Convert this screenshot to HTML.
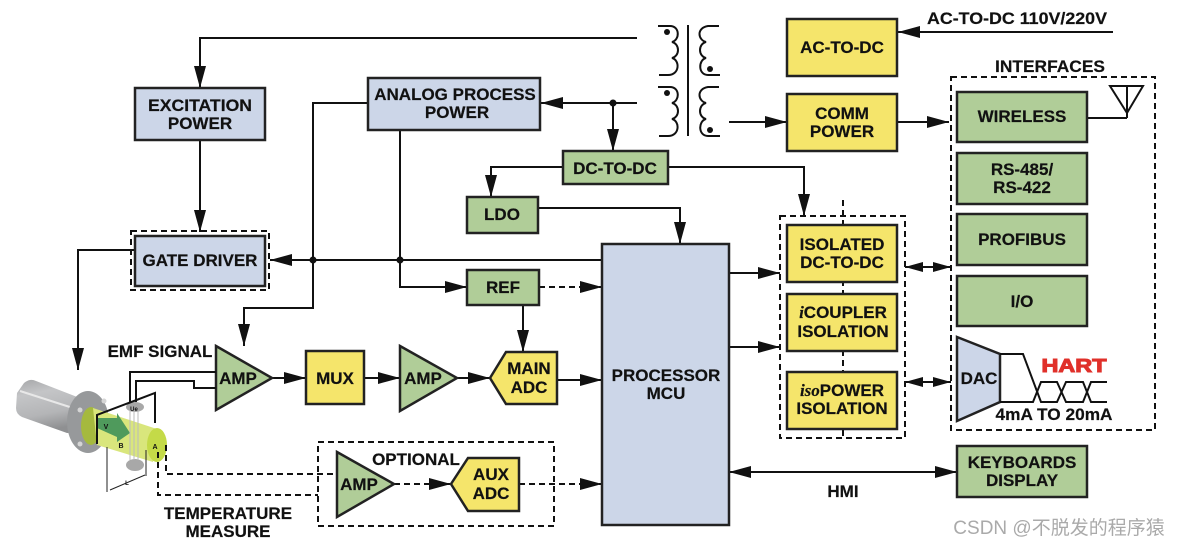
<!DOCTYPE html>
<html><head><meta charset="utf-8"><style>
html,body{margin:0;padding:0;background:#fff;width:1179px;height:545px;overflow:hidden}
svg{display:block}
text{font-family:"Liberation Sans",sans-serif;font-weight:bold;font-size:17px;fill:#111;text-anchor:middle;stroke:#111;stroke-width:.2}
.b{fill:#ccd6e8;stroke:#222;stroke-width:2.5}
.g{fill:#b0cd98;stroke:#222;stroke-width:2.5}
.y{fill:#f5e56b;stroke:#222;stroke-width:2.5}
.l{fill:none;stroke:#111;stroke-width:2}
.d{fill:none;stroke:#111;stroke-width:2;stroke-dasharray:6 4}
.i{font-family:"Liberation Serif",serif;font-style:italic}
</style></head><body>
<svg width="1179" height="545" viewBox="0 0 1179 545" xmlns="http://www.w3.org/2000/svg">
<defs>
<marker id="a" markerUnits="userSpaceOnUse" markerWidth="22" markerHeight="14" refX="22" refY="7" orient="auto-start-reverse"><path d="M0 1 L22 7 L0 13 Z" fill="#111"/></marker>
<marker id="s" markerUnits="userSpaceOnUse" markerWidth="18" markerHeight="12" refX="18" refY="6" orient="auto-start-reverse"><path d="M0 1 L18 6 L0 11 Z" fill="#111"/></marker>
<linearGradient id="p" x1="0" y1="0" x2="0.25" y2="1"><stop offset="0" stop-color="#a6a7a9"/><stop offset=".3" stop-color="#c4c5c7"/><stop offset=".7" stop-color="#b4b5b7"/><stop offset="1" stop-color="#8f9092"/></linearGradient>
</defs>

<!-- connectors -->
<path class="l" d="M637 38H200V88" marker-end="url(#a)"/>
<path class="l" d="M637 103H541" marker-end="url(#a)"/>
<path class="l" d="M613 103V151" marker-end="url(#a)"/>
<circle cx="613" cy="103" r="3.5" fill="#111"/>
<path class="l" d="M200 140V232" marker-end="url(#a)"/>
<path class="l" d="M368 103H313V308H244V346" marker-end="url(#a)"/>
<path class="l" d="M400 130V287H467" marker-end="url(#a)"/>
<path class="l" d="M602 260H270" marker-end="url(#a)"/>
<circle cx="313" cy="260" r="3.5" fill="#111"/>
<circle cx="400" cy="260" r="3.5" fill="#111"/>
<path class="l" d="M135 250H78V370" marker-end="url(#a)"/>
<path class="l" d="M563 167H491V197" marker-end="url(#a)"/>
<path class="l" d="M668 167H804V216" marker-end="url(#a)"/>
<path class="l" d="M538 208H680V244" marker-end="url(#a)"/>
<path class="d" d="M539 287H602" marker-end="url(#a)"/>
<path class="l" d="M523 305V352" marker-end="url(#a)"/>
<path class="l" d="M729 273H780" marker-end="url(#a)"/>
<path class="l" d="M729 347H780" marker-end="url(#a)"/>
<path class="l" d="M729 122H787" marker-end="url(#a)"/>
<path class="l" d="M897 122H949" marker-end="url(#a)"/>
<path class="l" d="M1087 118H1127"/>
<path class="l" d="M1110 86H1143L1127 113ZM1127 86V118"/>
<path class="l" d="M1113 32H898" marker-end="url(#a)"/>
<path class="l" d="M905 267H951" marker-start="url(#s)" marker-end="url(#s)"/>
<path class="l" d="M905 382H951" marker-start="url(#s)" marker-end="url(#s)"/>
<path class="l" d="M729 472H957" marker-start="url(#a)" marker-end="url(#a)"/>
<path class="l" d="M272 378H306" marker-end="url(#a)"/>
<path class="l" d="M364 378H400" marker-end="url(#a)"/>
<path class="l" d="M457 378H490" marker-end="url(#a)"/>
<path class="l" d="M557 380H602" marker-end="url(#a)"/>
<path class="d" d="M394 484H451" marker-end="url(#a)"/>
<path class="d" d="M519 484H602" marker-end="url(#a)"/>
<path class="d" d="M843 200V438" stroke-dasharray="7 7"/>

<!-- transformer -->
<g fill="none" stroke="#111" stroke-width="2">
<path d="M688 25V136"/>
<path d="M658 26H670C680 26 680 40 672 42C680 44 680 56 672 58C680 60 680 75 668 75H659"/>
<path d="M719 26H708C696 28 698 40 706 42C698 44 698 56 706 58C698 60 698 75 708 75H720"/>
<path d="M658 87H670C680 87 680 101 672 103C680 105 680 117 672 119C680 121 680 136 668 136H659"/>
<path d="M719 87H708C696 89 698 101 706 103C698 105 698 117 706 119C698 121 698 136 708 136H720"/>
</g>
<circle cx="667" cy="32" r="3" fill="#111"/><circle cx="710" cy="69" r="3" fill="#111"/>
<circle cx="667" cy="93" r="3" fill="#111"/><circle cx="710" cy="130" r="3" fill="#111"/>

<!-- dashed groups -->
<rect x="131" y="231" width="138" height="59" class="d"/>
<rect x="780" y="216" width="125" height="222" class="d"/>
<rect x="951" y="77" width="204" height="353" class="d"/>
<rect x="318" y="442" width="236" height="84" class="d"/>

<!-- boxes -->
<rect class="b" x="135" y="88" width="130" height="52"/>
<rect class="b" x="368" y="78" width="172" height="52"/>
<rect class="b" x="135" y="236" width="130" height="50"/>
<rect class="b" x="602" y="244" width="127" height="281"/>
<path class="b" d="M957 337L1000 354V402L957 421Z"/>
<rect class="g" x="563" y="151" width="105" height="33"/>
<rect class="g" x="467" y="197" width="71" height="36"/>
<rect class="g" x="467" y="270" width="72" height="35"/>
<rect class="g" x="957" y="92" width="130" height="50"/>
<rect class="g" x="957" y="153" width="130" height="51"/>
<rect class="g" x="957" y="214" width="130" height="51"/>
<rect class="g" x="957" y="276" width="130" height="50"/>
<rect class="g" x="957" y="446" width="130" height="51"/>
<path class="g" d="M216 346L272 378L216 410Z"/>
<path class="g" d="M400 346L457 378L400 411Z"/>
<path class="g" d="M337 452L394 484L337 517Z"/>
<rect class="y" x="787" y="19" width="110" height="57"/>
<rect class="y" x="787" y="94" width="110" height="57"/>
<rect class="y" x="787" y="225" width="110" height="57"/>
<rect class="y" x="787" y="294" width="110" height="57"/>
<rect class="y" x="787" y="372" width="110" height="57"/>
<rect class="y" x="306" y="351" width="58" height="53"/>
<path class="y" d="M490 378L506 352H557V404H506Z"/>
<path class="y" d="M451 484L468 458H519V511H468Z"/>

<!-- HART waves -->
<path class="l" d="M1000 354H1023L1041 402H1057L1066 382H1083L1091 402H1107"/>
<path class="l" d="M1000 402H1033L1041 382H1057L1066 402H1083L1091 382H1107"/>

<!-- flow meter -->
<path d="M17 393L24 383Q30 378 36 381L85 400V432L67 433L22 417Q16 414 16 408Z" fill="url(#p)"/>
<path d="M20 391L76 409" stroke="#e8e8e8" stroke-width="2"/>
<ellipse cx="88" cy="422" rx="21" ry="31" fill="#97999b"/>
<circle cx="80" cy="410" r="2.5" fill="#d5d5d5"/><circle cx="104" cy="401" r="2.5" fill="#d5d5d5"/><circle cx="80" cy="444" r="2.5" fill="#d5d5d5"/>
<ellipse cx="91" cy="426" rx="10" ry="19" fill="#a5b93e"/>
<path d="M93 408L160 430L153 462L97 445Z" fill="#d9e67c"/>
<ellipse cx="157" cy="445" rx="10" ry="17" fill="#c4da48"/>
<path d="M97 418H117V413L130 433L117 442V437L97 428Z" fill="#4f9a5c"/>
<ellipse cx="135" cy="407" rx="9" ry="5" fill="#a8a8a8"/>
<ellipse cx="135" cy="465" rx="9" ry="6" fill="#a8a8a8"/>
<path d="M130 410V460M134 410V460M138 410V460" stroke="#bbb" stroke-width="1"/>
<path d="M97 444V415L155 393V423" fill="none" stroke="#111" stroke-width="2"/>
<path d="M107 447V492M146 450V476M110 490L145 475" stroke="#222" stroke-width="1" fill="none"/>
<path class="l" d="M216 372H130V402"/>
<path class="l" d="M216 388H194V381H136V402"/>
<path class="d" d="M166 445V474H337"/>
<path class="d" d="M158 452V495H318"/>
<text x="106" y="429" style="font-size:7px;stroke:none">V</text><text x="121" y="448" style="font-size:7px;stroke:none">B</text><text x="155" y="449" style="font-size:7px;stroke:none">A</text><text x="134" y="411" style="font-size:6px;stroke:none">Ue</text><text x="127" y="485" style="font-size:6px;stroke:none">L</text>

<!-- labels -->
<text x="200" y="111" textLength="104" lengthAdjust="spacingAndGlyphs">EXCITATION</text><text x="200" y="129">POWER</text>
<text x="455" y="100">ANALOG PROCESS</text><text x="457" y="118">POWER</text>
<text x="200" y="266">GATE DRIVER</text>
<text x="615" y="174">DC-TO-DC</text>
<text x="502" y="220">LDO</text>
<text x="503" y="293">REF</text>
<text x="842" y="53">AC-TO-DC</text>
<text x="842" y="119">COMM</text><text x="842" y="137">POWER</text>
<text x="842" y="250">ISOLATED</text><text x="842" y="268">DC-TO-DC</text>
<text x="843" y="318"><tspan class="i">i</tspan>COUPLER</text><text x="843" y="337">ISOLATION</text>
<text x="842" y="396"><tspan class="i">iso</tspan>POWER</text><text x="842" y="414">ISOLATION</text>
<text x="666" y="381">PROCESSOR</text><text x="666" y="399">MCU</text>
<text x="1022" y="122">WIRELESS</text>
<text x="1022" y="175">RS-485/</text><text x="1022" y="193">RS-422</text>
<text x="1022" y="245">PROFIBUS</text>
<text x="1022" y="307">I/O</text>
<text x="979" y="384">DAC</text>
<text x="1054" y="420" textLength="117" lengthAdjust="spacingAndGlyphs">4mA TO 20mA</text>
<text x="1022" y="468">KEYBOARDS</text><text x="1022" y="486">DISPLAY</text>
<text x="1050" y="72" textLength="110" lengthAdjust="spacingAndGlyphs">INTERFACES</text>
<text x="1017" y="24" textLength="180" lengthAdjust="spacingAndGlyphs">AC-TO-DC 110V/220V</text>
<text x="160" y="357">EMF SIGNAL</text>
<text x="238" y="384">AMP</text>
<text x="335" y="384">MUX</text>
<text x="423" y="384">AMP</text>
<text x="529" y="374">MAIN</text><text x="529" y="393">ADC</text>
<text x="359" y="490">AMP</text>
<text x="416" y="465">OPTIONAL</text>
<text x="491" y="480">AUX</text><text x="491" y="499">ADC</text>
<text x="843" y="497">HMI</text>
<text x="228" y="519">TEMPERATURE</text><text x="228" y="537">MEASURE</text>
<text x="1074" y="372" textLength="65" lengthAdjust="spacingAndGlyphs" style="font-size:18px;fill:#e0302a;stroke:#e0302a;stroke-width:1">HART</text>
<text x="1059" y="534" style="font-family:'Liberation Sans','Noto Sans CJK SC',sans-serif;font-weight:normal;font-size:19px;fill:#aaa;stroke:none">CSDN @不脱发的程序猿</text>
</svg>
</body></html>
